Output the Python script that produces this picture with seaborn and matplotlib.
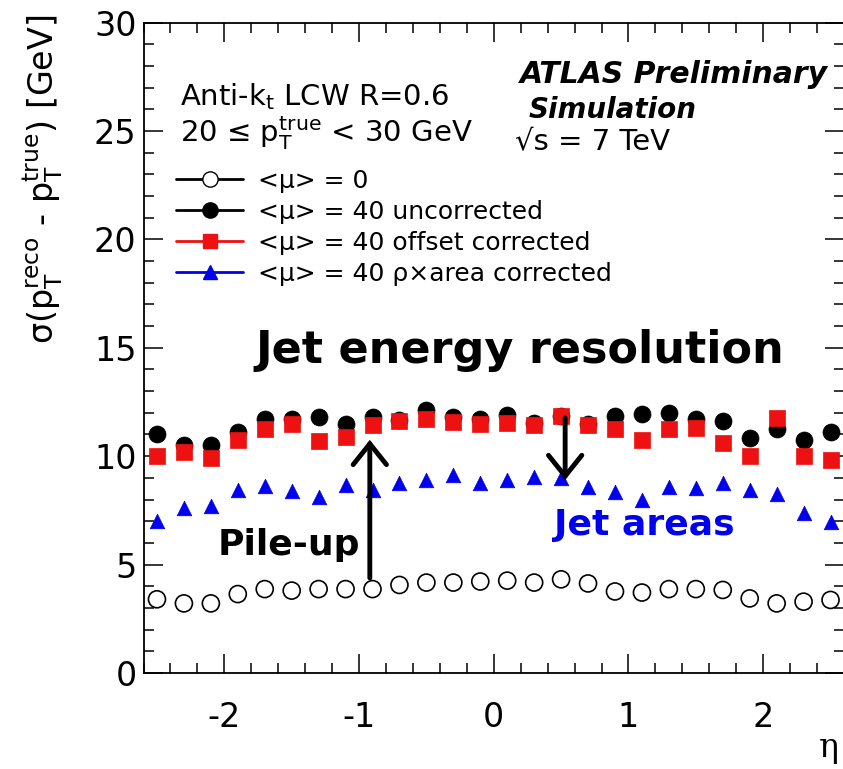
import numpy as np
import pandas as pd
import matplotlib
matplotlib.use("Agg")
import matplotlib.pyplot as plt
from matplotlib.lines import Line2D
from matplotlib.ticker import MultipleLocator
import seaborn as sns

# ---------------- data ----------------
eta = [-2.5, -2.3, -2.1, -1.9, -1.7, -1.5, -1.3, -1.1, -0.9, -0.7, -0.5, -0.3, -0.1,
       0.1, 0.3, 0.5, 0.7, 0.9, 1.1, 1.3, 1.5, 1.7, 1.9, 2.1, 2.3, 2.5]
mu0 = [3.40, 3.21, 3.21, 3.64, 3.87, 3.80, 3.87, 3.87, 3.87, 4.06, 4.17, 4.17, 4.22,
       4.26, 4.17, 4.32, 4.13, 3.76, 3.71, 3.87, 3.87, 3.83, 3.44, 3.21, 3.29, 3.37]
mu40_uncorr = [11.03, 10.53, 10.53, 11.13, 11.73, 11.73, 11.80, 11.49, 11.80, 11.68, 12.14, 11.80, 11.73,
               11.90, 11.53, 11.83, 11.48, 11.86, 11.95, 12.01, 11.70, 11.64, 10.83, 11.25, 10.73, 11.13]
mu40_offset = [10.01, 10.17, 9.92, 10.73, 11.23, 11.49, 10.68, 10.88, 11.43, 11.60, 11.73, 11.56, 11.49,
               11.53, 11.43, 11.83, 11.43, 11.23, 10.76, 11.23, 11.29, 10.63, 10.01, 11.75, 10.01, 9.82]
mu40_area = [7.00, 7.61, 7.71, 8.46, 8.61, 8.41, 8.11, 8.68, 8.44, 8.75, 8.88, 9.12, 8.75,
             8.88, 9.06, 8.99, 8.56, 8.37, 7.98, 8.56, 8.52, 8.75, 8.44, 8.26, 7.40, 6.98]
series_labels = ["<\u03bc> = 0", "<\u03bc> = 40 uncorrected",
                 "<\u03bc> = 40 offset corrected", "<\u03bc> = 40 \u03c1\u00d7area corrected"]
x_ticks = [-2, -1, 0, 1, 2]
y_ticks = [0, 5, 10, 15, 20, 25, 30]

# ---------------- style ----------------
sns.set_style("ticks")
plt.rcParams['font.family'] = ['DejaVu Sans']
plt.rcParams['mathtext.fontset'] = 'dejavusans'
for k in ['text.color', 'axes.labelcolor', 'xtick.color', 'ytick.color', 'axes.edgecolor']:
    plt.rcParams[k] = 'black'

W, H = 843, 769
fig = plt.figure(figsize=(W / 100, H / 100), dpi=100)
ax_l, ax_r, ax_t, ax_b = 143.5, 844.0, 22.5, 673.0
ax = fig.add_axes([ax_l / W, 1 - ax_b / H, (ax_r - ax_l) / W, (ax_b - ax_t) / H])

df = pd.DataFrame({"eta": eta, "mu0": mu0, "unc": mu40_uncorr,
                   "off": mu40_offset, "area": mu40_area})

BLUE = "#0000ee"
RED = "#ee1111"
sns.scatterplot(data=df, x="eta", y="mu0", ax=ax, marker="o", s=150,
                facecolor="none", edgecolor="black", linewidth=1.2, zorder=3)
sns.scatterplot(data=df, x="eta", y="unc", ax=ax, marker="o", s=150,
                color="black", edgecolor="black", linewidth=0.5, zorder=3)
sns.scatterplot(data=df, x="eta", y="off", ax=ax, marker="s", s=120,
                color=RED, edgecolor=RED, linewidth=0.5, zorder=4)
sns.scatterplot(data=df, x="eta", y="area", ax=ax, marker="^", s=110,
                color=BLUE, edgecolor=BLUE, linewidth=0.5, zorder=4)

ax.set_xlim(-2.6, 2.6)
ax.set_ylim(0, 30)
ax.set_xticks(x_ticks)
ax.set_yticks(y_ticks)
ax.set_xticklabels([str(t) for t in x_ticks])
ax.set_yticklabels([str(t) for t in y_ticks])
ax.xaxis.set_minor_locator(MultipleLocator(0.2))
ax.yaxis.set_minor_locator(MultipleLocator(1))
ax.tick_params(which="both", direction="in", top=True, right=True, width=1.1, color="black")
ax.tick_params(which="major", length=14)
ax.tick_params(which="minor", length=7)
ax.tick_params(axis="x", which="major", labelsize=24, pad=20)
ax.tick_params(axis="y", which="major", labelsize=24, pad=5)
for sp in ax.spines.values():
    sp.set_linewidth(1.3)
    sp.set_color("black")

ax.set_xlabel("\u03b7", fontsize=24, family="DejaVu Serif", loc="right")
ax.xaxis.set_label_coords(0.992, -0.09)
ax.set_ylabel(r"σ(p$_\mathrm{T}^\mathrm{reco}$ - p$_\mathrm{T}^\mathrm{true}$) [GeV]",
              fontsize=24, loc="top")
ax.yaxis.set_label_coords(-0.112, 1.012)

# ---------------- legend / texts ----------------
fs = 21
ax.text(-2.33, 26.2, r"Anti-k$_\mathrm{t}$ LCW R=0.6", fontsize=fs, va="baseline")
ax.text(-2.33, 24.5, r"20 ≤ p$_\mathrm{T}^\mathrm{true}$ < 30 GeV", fontsize=fs, va="baseline")

handles = [
    Line2D([], [], color="black", marker="o", markerfacecolor="white",
           markeredgecolor="black", markersize=11, lw=2),
    Line2D([], [], color="black", marker="o", markersize=11, lw=2),
    Line2D([], [], color=RED, marker="s", markersize=10, lw=2),
    Line2D([], [], color=BLUE, marker="^", markersize=10, lw=2),
]
lfs = 18
leg = ax.legend(handles, series_labels, loc="upper left", frameon=False,
                fontsize=lfs, handlelength=2.68, handletextpad=0.6,
                labelspacing=0.28, borderpad=0, borderaxespad=0,
                bbox_to_anchor=((176 - ax_l) / (ax_r - ax_l), 1 - (169 - ax_t) / (ax_b - ax_t)))

ax.text(0.195, 27.23, "ATLAS Preliminary", fontsize=21.5, fontweight="bold",
        fontstyle="italic", va="baseline")
ax.text(0.26, 25.6, "Simulation", fontsize=20, fontweight="bold",
        fontstyle="italic", va="baseline")
ax.text(0.16, 24.1, "\u221as = 7 TeV", fontsize=fs, va="baseline")

ax.text(-1.77, 14.3, "Jet energy resolution", fontsize=32, fontweight="bold", va="baseline")
ax.text(-2.05, 5.45, "Pile-up", fontsize=26, fontweight="bold", va="baseline")
ax.text(0.45, 6.37, "Jet areas", fontsize=26, fontweight="bold", color=BLUE, va="baseline")

arrow_kw = dict(arrowstyle="->,head_length=0.75,head_width=0.6", lw=3.5, color="black",
                mutation_scale=20, shrinkA=0, shrinkB=0, joinstyle="miter")
ax.annotate("", xy=(-0.92, 10.75), xytext=(-0.92, 4.38), arrowprops=arrow_kw, zorder=5)
ax.annotate("", xy=(0.53, 8.9), xytext=(0.53, 11.77), arrowprops=arrow_kw, zorder=5)

fig.savefig("out.png", dpi=100)
